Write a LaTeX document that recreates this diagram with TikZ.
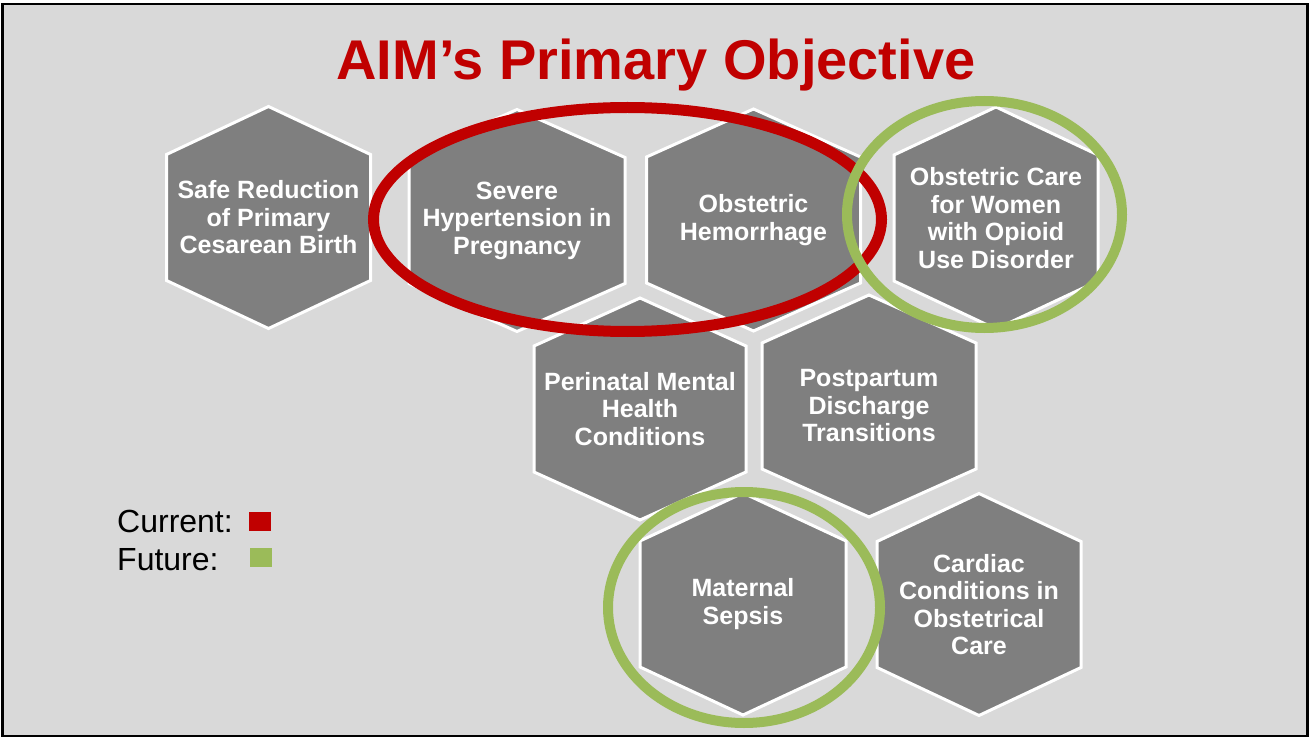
\documentclass[tikz,border=0pt]{standalone}
\usepackage{fontspec}
\setmainfont{Liberation Sans}
\usepackage{tikz}

\definecolor{slidegray}{HTML}{D9D9D9}
\definecolor{hexgray}{HTML}{7F7F7F}
\definecolor{aimred}{HTML}{C00000}
\definecolor{aimgreen}{HTML}{9BBB59}

% name, x, y, half width, text
\newcommand{\hexcell}[5]{%
  \draw[hexshape] ({#2-#4},{#3-63}) -- (#2,{#3-111}) -- ({#2+#4},{#3-63})
    -- ({#2+#4},{#3+63}) -- (#2,{#3+111}) -- ({#2-#4},{#3+63}) -- cycle;
  \node[hexlabel] (#1) at (#2,#3) {#5};
}

\begin{document}
\begin{tikzpicture}[
      x=1pt,y=-1pt,
      hexshape/.style={
        fill=hexgray,draw=white,line width=3pt,line join=miter
      },
      hexlabel/.style={
        text=white,align=center,inner sep=0pt,
        font=\bfseries\fontsize{25}{27.5}\selectfont
      },
      ring/.style={line width=10pt},
      keybox/.style={minimum width=22pt,minimum height=19pt,inner sep=0pt},
      legendtext/.style={font=\fontsize{32}{36}\selectfont,inner sep=0pt},
    ]
    \useasboundingbox (0,0) rectangle (1310,738);
    \draw[fill=slidegray,draw=black,line width=2.5pt] (2.5,4) rectangle (1307.5,736);

    \node[text=aimred,anchor=base,inner sep=0pt,font=\bfseries\fontsize{56}{60}\selectfont]
      (title) at (656,80) {AIM’s Primary Objective};

    % top row
    \hexcell{safe}{268.5}{217.5}{102}{Safe Reduction\\of Primary\\Cesarean Birth}
    \hexcell{hyper}{517}{220.5}{108}{Severe\\Hypertension in\\Pregnancy}
    \hexcell{hemo}{753.5}{220}{107}{Obstetric\\Hemorrhage}
    \hexcell{opioid}{996}{218}{102}{Obstetric Care\\for Women\\with Opioid\\Use Disorder}
    % middle row
    \hexcell{mental}{640}{409}{106}{Perinatal Mental\\Health\\Conditions}
    \hexcell{postp}{869}{406}{107}{Postpartum\\Discharge\\Transitions}
    % bottom row
    \hexcell{sepsis}{743}{604}{103}{Maternal\\Sepsis}
    \hexcell{cardiac}{979}{604.5}{102}{Cardiac\\Conditions in\\Obstetrical\\Care}

    % current / future rings
    \draw[ring,draw=aimred,line width=11pt] (627.5,219.5) ellipse [x radius=254,y radius=112];
    \draw[ring,draw=aimgreen] (984.5,214.5) ellipse [x radius=137.5,y radius=113.5];
    \draw[ring,draw=aimgreen] (744,607.5) ellipse [x radius=136,y radius=115.5];

    % legend
    \node[legendtext,anchor=base west] (current) at (117,532) {Current:};
    \node[legendtext,anchor=base west] (future) at (117,570) {Future:};
    \node[keybox,fill=aimred] (curkey) at (260,521.5) {};
    \node[keybox,fill=aimgreen] (futkey) at (261,557.5) {};
  \end{tikzpicture}
\end{document}
